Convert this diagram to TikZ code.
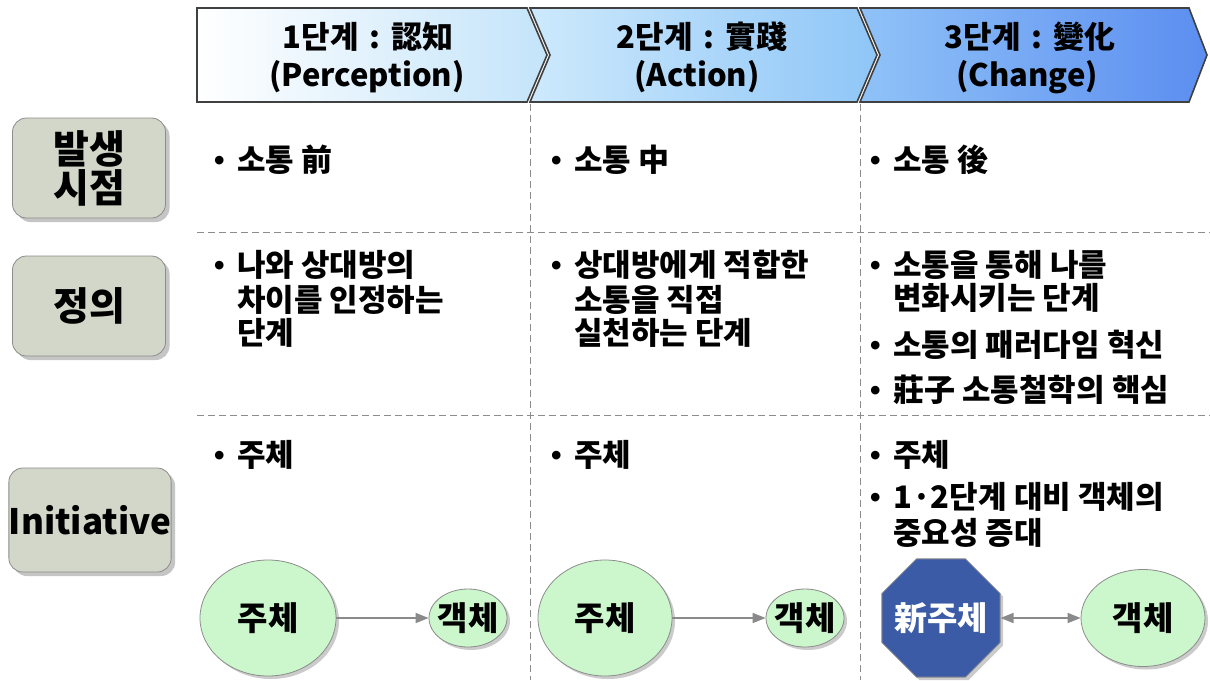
\documentclass[tikz,border=0pt]{standalone}
\usepackage{fontspec}
\newfontfamily\kr{Noto Sans CJK KR}
\newfontfamily\lat{Liberation Sans}
\usetikzlibrary{shapes.geometric,arrows.meta,shadows}
\definecolor{boxgray}{HTML}{D2D7C9}
\definecolor{egreen}{HTML}{CCF7CC}
\definecolor{octblue}{HTML}{3B5BA6}
\definecolor{hA}{HTML}{FFFFFF}
\definecolor{hB}{HTML}{C4E4FA}
\definecolor{hC}{HTML}{CDE9FC}
\definecolor{hD}{HTML}{8FC6F7}
\definecolor{hE}{HTML}{90C2F8}
\definecolor{hF}{HTML}{5B8EF0}
\definecolor{dashc}{HTML}{8C8C8C}
\definecolor{arrc}{HTML}{8A8A8A}
\begin{document}
\begin{tikzpicture}[x=1pt,y=-1pt,
  chev/.style={draw=black!75, line width=1.6pt, line join=miter},
  head/.style={inner sep=0, font=\kr\bfseries\fontsize{31}{34}\selectfont},
  lbl/.style={rounded corners=14pt, fill=boxgray, draw=black!45, line width=0.8pt,
    drop shadow={shadow xshift=4pt, shadow yshift=-4pt, fill=black!45},
    minimum width=153pt, minimum height=100pt, align=center, inner sep=0,
    font=\kr\bfseries\fontsize{39}{39}\selectfont},
  txt/.style={anchor=base west, inner sep=0, font=\kr\bfseries\fontsize{31}{34}\selectfont},
  bul/.style={anchor=base west, inner sep=0, font=\lat\bfseries\fontsize{30}{34}\selectfont},
  sep/.style={dashc, line width=1pt, dash pattern=on 7pt off 4pt},
  ell/.style={ellipse, fill=egreen, draw=black!45, line width=0.8pt,
    drop shadow={shadow xshift=3pt, shadow yshift=-3pt, fill=black!40}, inner sep=0},
  etext/.style={inner sep=0, font=\kr\bfseries\fontsize{33}{36}\selectfont},
  arr/.style={arrc, line width=1.6pt, -{Triangle[width=10pt,length=13pt]}}
]
\useasboundingbox[fill=white] (0,0) rectangle (1210,680);

% dashed separators
\draw[sep] (530,104) -- (530,680);
\draw[sep] (860,104) -- (860,680);
\draw[sep] (197,232) -- (1210,232);
\draw[sep] (197,415) -- (1210,415);

% header chevrons
\shadedraw[chev, left color=hA, right color=hB]
  (197,8) -- (527,8) -- (547,55) -- (527,102) -- (197,102) -- cycle;
\shadedraw[chev, left color=hC, right color=hD]
  (530,8) -- (857,8) -- (877,55) -- (857,102) -- (530,102) -- (550,55) -- cycle;
\shadedraw[chev, left color=hE, right color=hF]
  (860,8) -- (1189,8) -- (1207,55) -- (1189,102) -- (860,102) -- (880,55) -- cycle;

\node[head] (h1a) at (368,37) {1단계\hspace{0.35em}:\hspace{0.35em}認知};
\node[head] (h1b) at (367,77) {(Perception)};
\node[head] (h2a) at (702,37) {2단계\hspace{0.35em}:\hspace{0.35em}實踐};
\node[head] (h2b) at (697,77) {(Action)};
\node[head] (h3a) at (1030,37) {3단계\hspace{0.35em}:\hspace{0.35em}變化};
\node[head] (h3b) at (1027,77) {(Change)};

% left labels
\node[lbl] (l1) at (89,168) {발생\\시점};
\node[lbl] (l2) at (89,306) {정의};
\node[lbl, minimum height=104pt, font=\kr\bfseries\fontsize{35}{38}\selectfont] (l3) at (90,520) {Initiative};

% row 1
\node[bul] (b11) at (214,170) {•};
\node[txt] (t11) at (237,171) {소통 前};
\node[bul] (b12) at (551,170) {•};
\node[txt] (t12) at (574,171) {소통 中};
\node[bul] (b13) at (870,170) {•};
\node[txt] (t13) at (893,171) {소통 後};

% row 2
\node[bul] (b21) at (214,275) {•};
\node[txt] (t21a) at (237,276) {나와 상대방의};
\node[txt] (t21b) at (237,311) {차이를 인정하는};
\node[txt] (t21c) at (237,344) {단계};
\node[bul] (b22) at (551,275) {•};
\node[txt] (t22a) at (574,276) {상대방에게 적합한};
\node[txt] (t22b) at (574,311) {소통을 직접};
\node[txt] (t22c) at (574,344) {실천하는 단계};
\node[bul] (b23a) at (870,275) {•};
\node[txt] (t23a) at (893,276) {소통을 통해 나를};
\node[txt] (t23b) at (893,309) {변화시키는 단계};
\node[bul] (b23b) at (870,355) {•};
\node[txt] (t23c) at (893,356) {소통의 패러다임 혁신};
\node[bul] (b23c) at (870,400) {•};
\node[txt] (t23d) at (893,401) {莊子 소통철학의 핵심};

% row 3
\node[bul] (b31) at (214,465) {•};
\node[txt] (t31) at (237,466) {주체};
\node[bul] (b32) at (551,465) {•};
\node[txt] (t32) at (574,466) {주체};
\node[bul] (b33a) at (870,465) {•};
\node[txt] (t33a) at (893,466) {주체};
\node[bul] (b33b) at (870,507) {•};
\node[txt] (t33b) at (893,508) {1·2단계 대비 객체의};
\node[txt] (t33c) at (893,544) {중요성 증대};

% bottom shapes
\node[ell, minimum width=136pt, minimum height=116pt] (s1) at (268,618) {};
\node[etext] (s1t) at (s1) {주체};
\node[ell, minimum width=78pt, minimum height=58pt] (o1) at (468,618) {};
\node[etext] (o1t) at (o1) {객체};
\draw[arr] (s1.east) -- (o1.west);

\node[ell, minimum width=134pt, minimum height=116pt] (s2) at (605,618) {};
\node[etext] (s2t) at (s2) {주체};
\node[ell, minimum width=78pt, minimum height=58pt] (o2) at (805,618) {};
\node[etext] (o2t) at (o2) {객체};
\draw[arr] (s2.east) -- (o2.west);

\node[regular polygon, regular polygon sides=8, minimum size=128pt, inner sep=0,
  fill=octblue, draw=black!45, line width=0.8pt,
  drop shadow={shadow xshift=3pt, shadow yshift=-3pt, fill=black!40}] (n3) at (941,618) {};
\node[etext, text=white] (n3t) at (n3) {新주체};
\node[ell, minimum width=124pt, minimum height=97pt] (o3) at (1143,618) {};
\node[etext] (o3t) at (o3) {객체};
\draw[arr, {Triangle[width=10pt,length=13pt]}-{Triangle[width=10pt,length=13pt]}] (n3.east) -- (o3.west);
\end{tikzpicture}
\end{document}
